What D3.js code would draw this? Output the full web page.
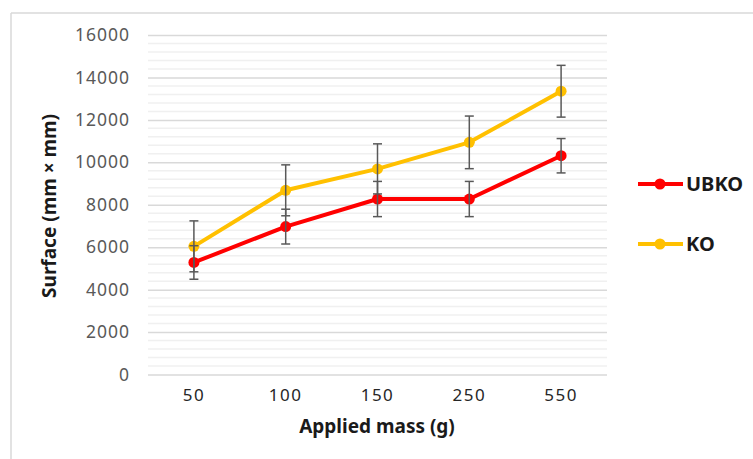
<!DOCTYPE html>
<meta charset="utf-8">
<script src="https://d3js.org/d3.v7.min.js"></script>
<style>
  body { margin: 0; background: #fff; }
  text { font-family: "Noto Sans", sans-serif; }
</style>
<div id="chart"></div>
<script>
// data
var masses = ["50", "100", "150", "250", "550"];
var ubko = [5280, 6970, 8270, 8270, 10310];
var ubkoErr = [790, 820, 830, 830, 810];
var ko = [6040, 8680, 9690, 10940, 13350];
var koErr = [1200, 1200, 1180, 1240, 1220];
var yTicks = [0, 2000, 4000, 6000, 8000, 10000, 12000, 14000, 16000];

var W = 753, H = 459;
var svg = d3.select("#chart").append("svg")
  .attr("width", W).attr("height", H);

// outer chart frame (only left/top visible)
svg.append("line").attr("x1", 11).attr("x2", W).attr("y1", 13).attr("y2", 13)
  .attr("stroke", "#d9d9d9").attr("stroke-width", 1.5);
svg.append("line").attr("x1", 11).attr("x2", 11).attr("y1", 13).attr("y2", H)
  .attr("stroke", "#d9d9d9").attr("stroke-width", 1.5);

var x = d3.scaleBand().domain(masses).range([148, 607]);
var y = d3.scaleLinear().domain([0, 16000]).range([374.5, 35]);

// minor gridlines every 400
svg.append("g")
  .selectAll("line")
  .data(d3.range(0, 16001, 400).filter(function(v) { return v % 2000 != 0; }))
  .join("line")
    .attr("x1", 148).attr("x2", 607)
    .attr("y1", function(d) { return y(d); })
    .attr("y2", function(d) { return y(d); })
    .attr("stroke", "#f0f0f0").attr("stroke-width", 1.5);

// major gridlines + tick labels
var yAxis = svg.append("g")
  .attr("transform", "translate(148,0)")
  .call(d3.axisLeft(y).tickValues(yTicks).tickFormat(d3.format("d"))
    .tickSize(-459).tickPadding(18));
yAxis.select(".domain").remove();
yAxis.selectAll(".tick line").attr("stroke", "#d9d9d9").attr("stroke-width", 1.5);
yAxis.selectAll(".tick text")
  .attr("fill", "#595959")
  .style("font-size", "17.5px").style("letter-spacing", "1px");

var xAxis = svg.append("g")
  .attr("transform", "translate(0,374.5)")
  .call(d3.axisBottom(x).tickSize(0).tickPadding(14));
xAxis.select(".domain").remove();
xAxis.selectAll(".tick text")
  .attr("fill", "#262626")
  .style("font-size", "17px").style("letter-spacing", "1.5px");

// axis titles
svg.append("text")
  .attr("transform", "translate(56,206) rotate(-90)")
  .attr("text-anchor", "middle")
  .style("font-size", "19px").style("font-weight", "bold")
  .attr("fill", "#1a1a1a")
  .text("Surface (mm × mm)");

svg.append("text")
  .attr("x", 377).attr("y", 433)
  .attr("text-anchor", "middle")
  .style("font-size", "19px").style("font-weight", "bold")
  .attr("fill", "#1a1a1a")
  .text("Applied mass (g)");

var series = [
  { name: "UBKO", color: "#ff0000", values: ubko, err: ubkoErr, ly: 184 },
  { name: "KO", color: "#ffc000", values: ko, err: koErr, ly: 244 }
];

var cx = function(i) { return x(masses[i]) + x.bandwidth() / 2; };

var line = d3.line()
  .x(function(d, i) { return cx(i); })
  .y(function(d) { return y(d); });

// draw KO first so the red line sits over it
series.slice().reverse().forEach(function(s) {
  var g = svg.append("g");
  g.append("path")
    .datum(s.values)
    .attr("d", line)
    .attr("fill", "none")
    .attr("stroke", s.color)
    .attr("stroke-width", 4)
    .attr("stroke-linejoin", "round");

  g.selectAll("circle")
    .data(s.values)
    .join("circle")
      .attr("cx", function(d, i) { return cx(i); })
      .attr("cy", function(d) { return y(d); })
      .attr("r", 5.5)
      .attr("fill", s.color);
});

// error bars on top
series.forEach(function(s) {
  var eb = svg.append("g").attr("stroke", "#595959").attr("stroke-width", 1.5);
  s.values.forEach(function(v, i) {
    var lo = y(v - s.err[i]), hi = y(v + s.err[i]), xc = cx(i);
    eb.append("line").attr("x1", xc).attr("x2", xc).attr("y1", lo).attr("y2", hi);
    eb.append("line").attr("x1", xc - 4.5).attr("x2", xc + 4.5).attr("y1", lo).attr("y2", lo);
    eb.append("line").attr("x1", xc - 4.5).attr("x2", xc + 4.5).attr("y1", hi).attr("y2", hi);
  });
});

// legend
series.forEach(function(s) {
  var lg = svg.append("g");
  lg.append("line").attr("x1", 638).attr("x2", 683).attr("y1", s.ly).attr("y2", s.ly)
    .attr("stroke", s.color).attr("stroke-width", 4);
  lg.append("circle").attr("cx", 660).attr("cy", s.ly).attr("r", 5.5).attr("fill", s.color);
  lg.append("text").attr("x", 686).attr("y", s.ly + 7)
    .style("font-size", "20px").style("font-weight", "bold")
    .attr("fill", "#1a1a1a")
    .text(s.name);
});
</script>
